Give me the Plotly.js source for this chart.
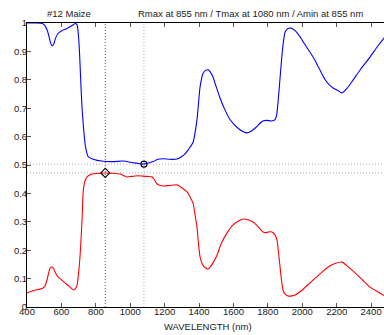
<!DOCTYPE html>
<html><head><meta charset="utf-8">
<script src="https://cdn.plot.ly/plotly-3.0.1.min.js"></script>
<style>html,body{margin:0;padding:0;background:#fff}#c{width:384px;height:335px}</style>
</head><body><div id="c"></div>
<script>
const blueWl = [400,450,490,505,520,535,545,555,565,580,600,630,660,680,690,697,705,712,720,730,740,755,784,842,900,958,1016,1050,1074,1100,1133,1160,1191,1230,1272,1300,1320,1340,1365,1388,1406,1423,1440,1452,1465,1481,1500,1522,1550,1580,1620,1660,1679,1700,1730,1755,1775,1795,1820,1842,1852,1859,1870,1883,1893,1900,1915,1935,1960,1987,2020,2063,2100,2133,2160,2179,2205,2231,2260,2295,2340,2394,2440,2475,2500];
const blueVal = [1.0,1.0,0.998,0.99,0.97,0.935,0.919,0.925,0.945,0.963,0.972,0.98,0.99,0.998,0.995,0.97,0.90,0.80,0.70,0.62,0.565,0.53,0.52,0.513,0.512,0.514,0.508,0.505,0.503,0.506,0.512,0.52,0.522,0.52,0.521,0.53,0.54,0.556,0.58,0.66,0.775,0.822,0.834,0.835,0.828,0.81,0.775,0.736,0.695,0.66,0.633,0.616,0.613,0.618,0.632,0.648,0.656,0.657,0.655,0.66,0.68,0.72,0.80,0.894,0.945,0.968,0.98,0.982,0.972,0.951,0.92,0.88,0.838,0.8,0.78,0.771,0.763,0.754,0.77,0.799,0.838,0.88,0.92,0.947,0.965];
const redWl = [400,440,476,493,505,516,525,534,545,555,563,580,600,621,650,665,673,682,691,700,708,715,720,726,735,749,778,853,900,941,960,981,1010,1040,1074,1100,1127,1140,1156,1191,1230,1272,1300,1330,1350,1365,1378,1388,1397,1406,1420,1437,1452,1470,1490,1505,1530,1563,1598,1630,1656,1685,1714,1740,1772,1790,1810,1824,1840,1853,1862,1871,1880,1888,1900,1917,1940,1958,2000,2045,2100,2150,2190,2231,2260,2307,2350,2394,2440,2470,2500];
const redVal = [0.049,0.058,0.063,0.067,0.075,0.095,0.118,0.137,0.141,0.135,0.123,0.106,0.096,0.085,0.07,0.062,0.06,0.065,0.077,0.12,0.176,0.25,0.306,0.401,0.44,0.458,0.468,0.472,0.471,0.468,0.463,0.458,0.46,0.462,0.461,0.46,0.458,0.448,0.433,0.426,0.428,0.43,0.42,0.405,0.385,0.366,0.32,0.282,0.22,0.176,0.15,0.138,0.134,0.145,0.165,0.183,0.225,0.261,0.289,0.303,0.31,0.307,0.299,0.285,0.264,0.262,0.265,0.264,0.255,0.236,0.19,0.141,0.09,0.06,0.045,0.039,0.039,0.042,0.06,0.085,0.115,0.141,0.153,0.158,0.145,0.12,0.095,0.07,0.053,0.042,0.035];
const rmaxWl = 855, rmaxVal = 0.472;
const tmaxWl = 1080, tmaxVal = 0.503;
const xTicks = [400,600,800,1000,1200,1400,1600,1800,2000,2200,2400];
const yTicks = [0,0.1,0.2,0.3,0.4,0.5,0.6,0.7,0.8,0.9,1];
const titleLeft = "#12 Maize";
const titleRight = "Rmax at 855 nm / Tmax at 1080 nm / Amin at 855 nm";
const xTitle = "WAVELENGTH (nm)";

const F = "Liberation Sans, Arial, sans-serif";
const traces = [
  {x: blueWl, y: blueVal, mode: 'lines', line: {color: '#0000ff', width: 1.1, shape: 'spline', smoothing: 0.6}, hoverinfo: 'skip'},
  {x: redWl, y: redVal, mode: 'lines', line: {color: '#ff0000', width: 1.1, shape: 'spline', smoothing: 0.6}, hoverinfo: 'skip'},
  {x: [tmaxWl], y: [tmaxVal], mode: 'markers', marker: {symbol: 'circle-open', size: 6, color: '#000', line: {width: 1.1}}},
  {x: [rmaxWl], y: [rmaxVal], mode: 'markers', marker: {symbol: 'diamond-open', size: 7, color: '#000', line: {width: 1.1}}}
];
const layout = {
  width: 384, height: 335,
  margin: {l: 27, r: 0, t: 23, b: 28, pad: 0},
  paper_bgcolor: '#fff', plot_bgcolor: '#fff',
  showlegend: false,
  font: {family: F, size: 9.5, color: '#000'},
  xaxis: {range: [400, 2475], tickvals: xTicks, ticks: 'inside', ticklen: 4, tickcolor: '#555',
          showline: true, linecolor: '#000', linewidth: 1, mirror: 'ticks', showgrid: false, zeroline: false,
          ticklabelstandoff: -4,
          tickfont: {family: F, size: 9.5, color: '#222'}},
  yaxis: {range: [0, 1], tickvals: yTicks, ticks: 'inside', ticklen: 4, tickcolor: '#555',
          showline: true, linecolor: '#000', linewidth: 1, mirror: false, showgrid: false, zeroline: false,
          ticklabelstandoff: -3,
          tickfont: {family: F, size: 9.5, color: '#222'}},
  shapes: [
    {type: 'line', xref: 'x', yref: 'paper', x0: rmaxWl, x1: rmaxWl, y0: 0, y1: 1, line: {color: '#555', width: 1, dash: '1px,2px'}, layer: 'below'},
    {type: 'line', xref: 'x', yref: 'paper', x0: tmaxWl, x1: tmaxWl, y0: 0, y1: 1, line: {color: '#aaa', width: 1, dash: '1px,2px'}, layer: 'below'},
    {type: 'line', xref: 'paper', yref: 'y', x0: 0, x1: 1, y0: tmaxVal, y1: tmaxVal, line: {color: '#aaa', width: 1, dash: '1px,2px'}, layer: 'below'},
    {type: 'line', xref: 'paper', yref: 'y', x0: 0, x1: 1, y0: rmaxVal, y1: rmaxVal, line: {color: '#aaa', width: 1, dash: '1px,2px'}, layer: 'below'}
  ],
  annotations: [
    {text: titleLeft, xref: 'paper', yref: 'paper', x: 0.118, y: 1.035, xanchor: 'center', yanchor: 'middle', showarrow: false, font: {family: F, size: 9.5, color: '#222'}},
    {text: titleRight, xref: 'paper', yref: 'paper', x: 0.625, y: 1.035, xanchor: 'center', yanchor: 'middle', showarrow: false, font: {family: F, size: 9.5, color: '#222'}},
    {text: xTitle, xref: 'paper', yref: 'paper', x: 0.507, y: -0.068, xanchor: 'center', yanchor: 'middle', showarrow: false, font: {family: F, size: 9.5, color: '#222'}}
  ]
};
Plotly.newPlot('c', traces, layout, {staticPlot: true, displayModeBar: false});
</script></body></html>
